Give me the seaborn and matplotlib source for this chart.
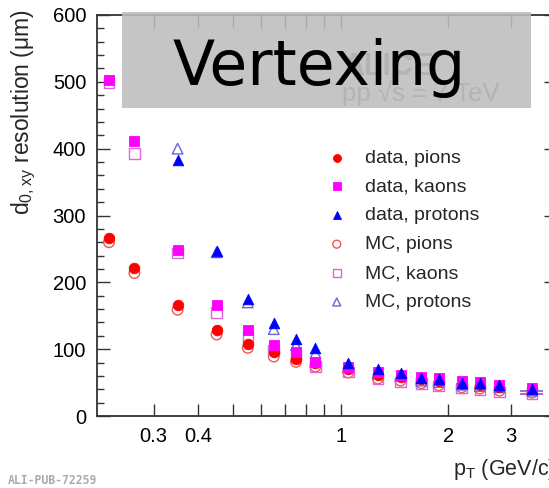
import numpy as np
import pandas as pd
import matplotlib
matplotlib.use("Agg")
import matplotlib.pyplot as plt
import seaborn as sns
from matplotlib.patches import Rectangle
from matplotlib.ticker import FixedLocator, FixedFormatter, MultipleLocator, NullLocator

# ---------------- data ----------------
pt = [0.225, 0.265, 0.35, 0.45, 0.55, 0.65, 0.75, 0.85, 1.05, 1.27,
      1.47, 1.68, 1.88, 2.18, 2.45, 2.78, 3.43]

data_pions = [267, 221, 166, 129, 108, 96, 86, 79, 70, 62, 58, 55, 52, 48, 47, 44, 41]
mc_pions = [260, 214, 159, 122, 102, 89, 81, 74, 65, 56, 53, 49, 46, 43, 41, 38, 35]

data_kaons = [502, 412, 249, 166, 128, 106, 96, 81, 74, 66, 62, 59, 57, 52, 51, 47, 42]
mc_kaons = [498, 393, 244, 155, 119, 99, 89, 74, 66, 56, 51, 49, 45, 42, 39, 36, 33]

data_protons = [np.nan, np.nan, 383, 247, 175, 139, 115, 101, 80, 70, 65, 57, 55, 50, 49, 46, 40]
mc_protons = [np.nan, np.nan, 400, 245, 170, 130, 106, 94, 75, 64, 60, 53, 51, 47, 45, 43, 38]

last_bin_halfwidth = 0.25

xtick_values = [0.3, 0.4, 0.5, 0.6, 0.7, 0.8, 0.9, 1, 2, 3, 4]
xtick_labels = ["0.3", "0.4", "", "", "", "", "", "1", "2", "3", "4"]

# ---------------- style ----------------
sns.set_theme(style="ticks")
plt.rcParams['font.family'] = ['Liberation Sans', 'DejaVu Sans']
plt.rcParams['mathtext.default'] = 'regular'

W, H = 549, 488
fig = plt.figure(figsize=(W / 100, H / 100), dpi=100)
fig.patch.set_facecolor("white")

ax_left, ax_right, ax_top, ax_bottom = 97.3, 556.0, 15.0, 416.0
ax = fig.add_axes([ax_left / W, (H - ax_bottom) / H,
                   (ax_right - ax_left) / W, (ax_bottom - ax_top) / H])
ax.set_facecolor("white")

series = [
    # label, values, marker, color, filled
    ("MC, pions", mc_pions, "o", "#ee5555", False),
    ("MC, kaons", mc_kaons, "s", "#dd66dd", False),
    ("MC, protons", mc_protons, "^", "#6666d6", False),
    ("data, pions", data_pions, "o", "#ff0000", True),
    ("data, kaons", data_kaons, "s", "#ff00ff", True),
    ("data, protons", data_protons, "^", "#0000ff", True),
]

for label, vals, marker, color, filled in series:
    df = pd.DataFrame({"pt": pt, "res": vals}).dropna()
    if filled:
        sns.scatterplot(data=df, x="pt", y="res", ax=ax, marker=marker, s=58,
                        color=color, edgecolor=color, linewidth=0.6,
                        label=label, zorder=4)
    else:
        sns.scatterplot(data=df, x="pt", y="res", ax=ax, marker=marker, s=58,
                        facecolor="none", edgecolor=color, linewidth=1.0,
                        label=label, zorder=3)

# horizontal bin-width error bars on last bin (MC kaons / protons)
for vals, color in [(mc_kaons, "#aa44cc"), (mc_protons, "#6666d6")]:
    ax.errorbar([pt[-1]], [vals[-1]], xerr=[[last_bin_halfwidth], [last_bin_halfwidth]],
                fmt="none", ecolor=color, elinewidth=1.2, capsize=0, zorder=2)

ax.set_xscale("log")
ax.set_xlim(0.2087, 4.0)
ax.set_ylim(0, 600)
ax.xaxis.set_major_locator(FixedLocator(xtick_values))
ax.xaxis.set_major_formatter(FixedFormatter(xtick_labels))
ax.xaxis.set_minor_locator(NullLocator())
ax.yaxis.set_major_locator(MultipleLocator(100))
ax.yaxis.set_minor_locator(MultipleLocator(20))
ax.tick_params(which="both", direction="in", top=True, right=True,
               color="#333333")
ax.tick_params(which="major", length=9, width=1.0, labelsize=14.5, pad=8,
               labelcolor="black")
ax.tick_params(which="minor", length=5, width=1.0)
for sp in ax.spines.values():
    sp.set_color("#333333")
    sp.set_linewidth(1.3)
ax.set_xlabel("")
ax.set_ylabel("")

# legend
hl, ll = ax.get_legend_handles_labels()
order = ["data, pions", "data, kaons", "data, protons", "MC, pions", "MC, kaons", "MC, protons"]
hmap = dict(zip(ll, hl))
leg = ax.legend([hmap[o] for o in order], order, loc="upper left",
                bbox_to_anchor=(328 / W, (H - 149) / H), bbox_transform=fig.transFigure,
                frameon=False, fontsize=14, markerscale=0.75, handlelength=0.9,
                handletextpad=1.0, labelspacing=0.58, borderpad=0, borderaxespad=0)

# axis titles
fig.text(24 / W, (H - 9) / H, "d$_{0,xy}$ resolution (\u03bcm)", rotation=90,
         ha="center", va="top", fontsize=16.5)
fig.text(556 / W, (H - 470) / H, "p$_{T}$ (GeV/c)", ha="right", va="center",
         fontsize=15.5)

# ALICE text partly hidden behind grey box
fig.text(342 / W, (H - 75) / H, "ALICE", fontsize=22, fontweight="bold",
         color="#707070", ha="left", va="baseline", zorder=5)
fig.text(342 / W, (H - 101) / H, "pp \u221as = 7 TeV", fontsize=18.5,
         color="#707070", ha="left", va="baseline", zorder=5)

box = Rectangle((122 / W, (H - 108) / H), 409 / W, 96 / H, transform=fig.transFigure,
                facecolor="#bdbdbd", edgecolor="none", alpha=0.88, zorder=10)
fig.add_artist(box)
fig.text(173 / W, (H - 85) / H, "Vertexing", fontsize=44.4, family="DejaVu Sans",
         color="black", ha="left", va="baseline", zorder=11)

fig.text(8 / W, (H - 481) / H, "ALI-PUB-72259", fontsize=8.3, family="DejaVu Sans Mono",
         fontweight="bold", color="#aaaaaa", ha="left", va="center")

fig.savefig("out.png", dpi=100)
